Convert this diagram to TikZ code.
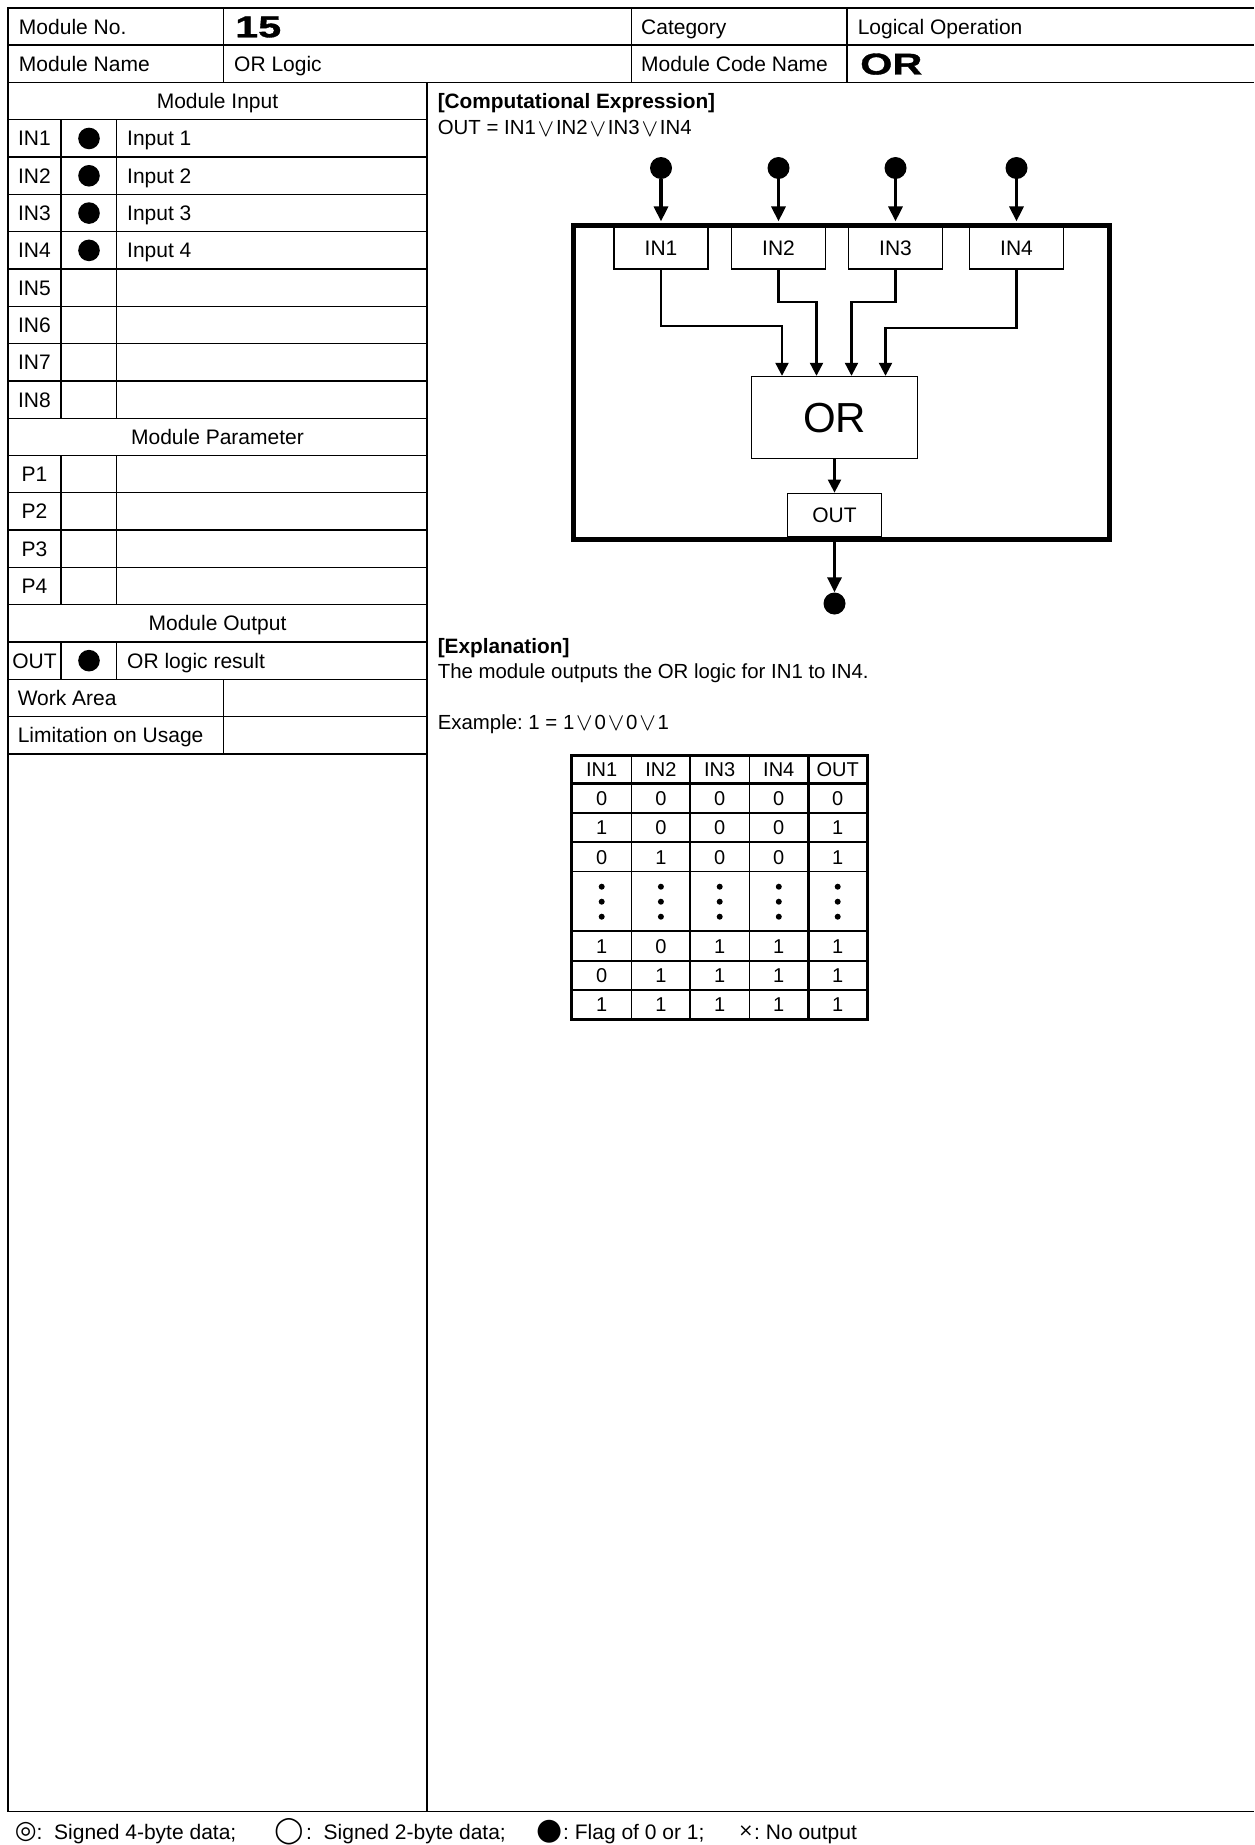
\documentclass[tikz,border=0pt]{standalone}
\usepackage{fontspec}
\setmainfont{Liberation Sans}
\newfontfamily\symfont{DejaVu Sans}
\newfontfamily\widefont[FakeStretch=1.38,FakeBold=1.2]{Liberation Sans}
\usetikzlibrary{arrows.meta}
\newcommand\orop{\hspace{1.8pt}\raisebox{-1.5pt}{\fontsize{27}{30}\selectfont$\vee$}\hspace{1.8pt}}
\frenchspacing

\begin{document}
\begin{tikzpicture}[x=1pt,y=-1pt,
  formline/.style={line width=1.3pt},
  lbl/.style={inner sep=0pt,text height=15pt,text depth=0pt,font=\fontsize{21}{25}\selectfont},
  lblw/.style={lbl,anchor=west},
  rtxt/.style={lblw,font=\fontsize{20.4}{25}\selectfont},
  bold/.style={font=\bfseries\fontsize{20.8}{25}\selectfont},
  wide/.style={font=\widefont\bfseries\fontsize{30}{34}\selectfont,text height=21.5pt},
  blob/.style={circle,fill,inner sep=0pt,minimum size=22pt},
  inbox/.style={draw,line width=1.2pt,minimum width=94pt,minimum height=43pt,lbl},
  bigarrow/.style={line width=3.2pt,-{Triangle[length=15pt,width=14pt]}},
  smallarrow/.style={line width=2.2pt,-{Triangle[length=13pt,width=13pt]}},
  tcell/.style={inner sep=0pt,text height=14.3pt,text depth=0pt,font=\fontsize{20}{24}\selectfont},
  tthin/.style={line width=1.2pt},
  tthick/.style={line width=3pt},
  sym/.style={inner sep=0pt,font=\symfont}]
\useasboundingbox (0,0) rectangle (1254,1845);

\draw[formline] (1254,8) -- (8,8) -- (8,1811.5) -- (1254,1811.5);
\draw[formline] (8,45) -- (1254,45);
\draw[formline] (8,82.5) -- (1254,82.5);
\draw[formline] (223.5,8) -- (223.5,82.5);
\draw[formline] (631.7,8) -- (631.7,82.5);
\draw[formline] (847,8) -- (847,82.5);
\draw[formline] (427,82.5) -- (427,1811.5);
\foreach \n in {1,...,18}
  \draw[formline] (8,82.5+37.3*\n) -- (427,82.5+37.3*\n);
\foreach \a/\b in {1/9,10/14,15/16} {
  \draw[formline] (61,82.5+37.3*\a) -- (61,82.5+37.3*\b);
  \draw[formline] (116.5,82.5+37.3*\a) -- (116.5,82.5+37.3*\b);
}
\draw[formline] (223.5,679.3) -- (223.5,753.9);

\node[lblw] (modno) at (18.8,26.5) {Module No.};
\node[lblw,wide] (modnoval) at (235,26.5) {15};
\node[lblw] (cat) at (641,26.5) {Category};
\node[lblw] (catval) at (857.6,26.5) {Logical Operation};
\node[lblw] (modname) at (18.8,63.7) {Module Name};
\node[lblw] (modnameval) at (234,63.7) {OR Logic};
\node[lblw] (code) at (641,63.7) {Module Code Name};
\node[lblw,wide] (codeval) at (860,63.7) {OR};

\node[lbl] (inhead) at (217.5,101.15) {Module Input};
\node[lbl] (parhead) at (217.5,436.85) {Module Parameter};
\node[lbl] (outhead) at (217.5,623.35) {Module Output};
\foreach \n in {1,...,8}
  \node[lbl] (in\n) at (34.5,101.15+37.3*\n) {IN\n};
\foreach \n in {1,...,4} {
  \node[lblw] (indesc\n) at (127,101.15+37.3*\n) {Input \n};
  \fill (89,101.15+37.3*\n) circle (10.8pt);
  \node[lbl] (p\n) at (34.5,101.15+37.3*\n+335.7) {P\n};
}
\node[lbl] (outlab) at (34.5,660.65) {OUT};
\node[lblw] (outdesc) at (127,660.65) {OR logic result};
\fill (89,660.65) circle (10.8pt);
\node[lblw] (work) at (17.6,697.95) {Work Area};
\node[lblw] (limit) at (17.6,735.25) {Limitation on Usage};

\node[lblw,bold] (exprhead) at (437.6,101) {[Computational Expression]};
\node[rtxt] (expr) at (437.6,127) {OUT = IN1\orop IN2\orop IN3\orop IN4};

\draw[line width=5pt] (573,225) rectangle (1109,539);
\node[blob] (d1) at (661,168) {};
\node[blob] (d2) at (778.5,168) {};
\node[blob] (d3) at (895.5,168) {};
\node[blob] (d4) at (1016.5,168) {};
\node[inbox] (b1) at (661,247.5) {IN1};
\node[inbox] (b2) at (778.5,247.5) {IN2};
\node[inbox] (b3) at (895.5,247.5) {IN3};
\node[inbox] (b4) at (1016.5,247.5) {IN4};
\node[draw,line width=1.2pt,minimum width=166pt,minimum height=82.4pt,inner sep=0pt,
  text height=30pt,text depth=0pt,font=\fontsize{42}{48}\selectfont] (or) at (834.5,417.6) {OR};
\node[inbox] (outb) at (834.5,514.7) {OUT};
\node[blob] (dout) at (834.5,603.5) {};
\foreach \i in {1,...,4}
  \draw[bigarrow,shorten >=4pt] (d\i) -- (b\i);
\draw[smallarrow] (b1.south) -- ++(0,56) -| ([xshift=-52.5pt]or.north);
\draw[smallarrow] (b2.south) -- ++(0,32) -| ([xshift=-18pt]or.north);
\draw[smallarrow] (b3.south) -- ++(0,32) -| ([xshift=17pt]or.north);
\draw[smallarrow] (b4.south) -- ++(0,58) -| ([xshift=51pt]or.north);
\draw[smallarrow] (or) -- (outb);
\draw[bigarrow] (outb) -- (dout);

\node[lblw,bold] (explhead) at (437.6,646) {[Explanation]};
\node[rtxt] (expl) at (437.6,671) {The module outputs the OR logic for IN1 to IN4.};
\node[rtxt] (example) at (437.6,721.5) {Example: 1 = 1\orop 0\orop 0\orop 1};

\foreach \y in {813,842,871.7,931,961,990}
  \draw[tthin] (571.7,\y) -- (867,\y);
\foreach \x in {631.7,690,749.3}
  \draw[tthin] (\x,755) -- (\x,1019.5);
\draw[tthick] (571.7,783.5) -- (867,783.5);
\draw[tthick] (808.3,755) -- (808.3,1019.5);
\draw[tthick] (571.7,755) rectangle (867,1019.5);
\foreach \x/\v [count=\k] in {601.7/IN1,660.9/IN2,719.7/IN3,778.8/IN4,837.7/OUT}
  \node[tcell] (th\k) at (\x,769.3) {\v};
\foreach \y/\a/\b/\c/\d/\e [count=\r] in {798.3/0/0/0/0/0,827.5/1/0/0/0/1,857/0/1/0/0/1,
    946/1/0/1/1/1,975.5/0/1/1/1/1,1004.8/1/1/1/1/1}
  \foreach \x/\v [count=\k] in {601.7/\a,660.9/\b,719.7/\c,778.8/\d,837.7/\e}
    \node[tcell] (v\r-\k) at (\x,\y) {\v};
\foreach \x in {601.7,660.9,719.7,778.8,837.7}
  \foreach \y in {886.7,901.7,916.7}
    \fill (\x,\y) circle (3pt);

\node[sym,font=\symfont\fontsize{25}{28}\selectfont] (s1) at (25.9,1831.6) {◎};
\node[lblw] (l1) at (36.5,1831.6) {:\ \ Signed 4-byte data;};
\node[sym,font=\symfont\fontsize{26}{30}\selectfont] (s2) at (288.8,1831.6) {◯};
\node[lblw] (l2) at (306,1831.6) {:\ \ Signed 2-byte data;};
\node[sym,font=\symfont\fontsize{30}{34}\selectfont] (s3) at (550,1831.6) {●};
\node[lblw] (l3) at (563,1831.6) {: Flag of 0 or 1;};
\node[sym,font=\symfont\fontsize{18}{22}\selectfont] (s4) at (745.8,1831.6) {×};
\node[lblw] (l4) at (754,1831.6) {: No output};
\end{tikzpicture}
\end{document}
